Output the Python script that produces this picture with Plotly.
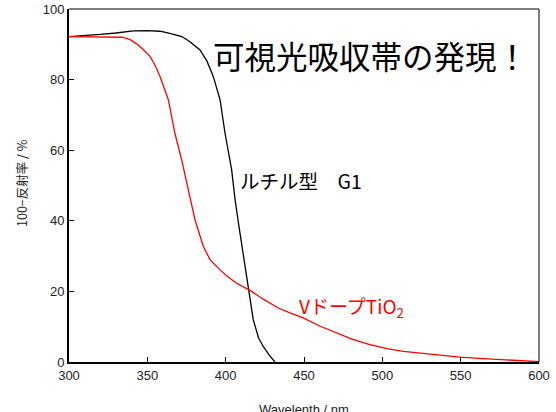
import plotly.graph_objects as go

# Rutile G1 (black)
g1_wl = [300, 310, 320, 330, 341, 350, 358, 365, 372, 377, 380, 383.6, 388, 392.1, 396.4, 399.6, 403.8, 406, 408.7, 410.2, 414.4, 417.6, 421, 424, 428, 431.5]
g1_val = [92.2, 92.4, 92.8, 93.2, 93.8, 93.9, 93.7, 93.0, 92.2, 90.8, 89.8, 88.4, 85.3, 80.9, 74.3, 64.8, 54.5, 46.0, 37.8, 33.2, 20.5, 12.0, 6.8, 4.4, 1.8, 0.0]

# V-doped TiO2 (red)
v_wl = [300, 310, 320, 328, 334, 339, 343, 347.4, 351.7, 355, 358.1, 363.4, 367.6, 371.9, 376.1, 380.4, 385.7, 390, 396.4, 401, 407, 415.5, 424, 433.6, 441, 449.5, 460, 470.8, 481, 492, 503, 513.4, 524, 534.7, 549.5, 562, 575, 587, 598.5, 600]
v_val = [92.2, 92.2, 92.2, 92.2, 92.0, 91.3, 90.2, 88.5, 86.6, 84.0, 80.9, 74.3, 64.8, 57.3, 48.8, 40.3, 32.8, 29.0, 26.1, 24.3, 22.3, 20.3, 17.8, 15.3, 13.9, 12.5, 10.2, 8.2, 6.4, 4.9, 3.8, 3.0, 2.5, 2.1, 1.4, 1.0, 0.65, 0.35, 0.1, 0.1]

x_ticks = [300, 350, 400, 450, 500, 550, 600]
y_ticks = [0, 20, 40, 60, 80, 100]

PX0, PY0, PW, PH = 69, 9, 470, 353


def px(sx):
    return (sx - PX0) / PW


def py(sy):
    return 1 - (sy - PY0) / PH


fig = go.Figure()
fig.add_trace(go.Scatter(x=g1_wl, y=g1_val, mode="lines", line=dict(color="black", width=1.3), showlegend=False))
fig.add_trace(go.Scatter(x=v_wl, y=v_val, mode="lines", line=dict(color="#ff0000", width=1.3), showlegend=False))

tickfont = dict(family="Liberation Sans, Arial, sans-serif", size=13, color="#222")
fig.update_xaxes(range=[300, 600], tickvals=x_ticks, ticks="inside", ticklen=5, tickcolor="black", tickwidth=1,
                 showline=True, linecolor="black", linewidth=2, showgrid=False, zeroline=False, tickfont=tickfont,
                 automargin=False)
fig.update_yaxes(range=[0, 100], tickvals=y_ticks, ticks="inside", ticklen=5, tickcolor="black", tickwidth=1,
                 showline=True, linecolor="black", linewidth=2, showgrid=False, zeroline=False, tickfont=tickfont,
                 automargin=False)

fig.add_shape(type="line", xref="paper", yref="paper", x0=0, x1=1, y0=1, y1=1, line=dict(color="black", width=1))
fig.add_shape(type="line", xref="paper", yref="paper", x0=1, x1=1, y0=0, y1=1, line=dict(color="black", width=1))

# axis titles
fig.add_annotation(x=0.5, y=py(409), xref="paper", yref="paper", text="Wavelenth / nm", showarrow=False,
                   xanchor="center", yanchor="middle",
                   font=dict(family="Liberation Sans, Arial, sans-serif", size=13, color="#222"))
fig.add_annotation(x=px(21), y=py(183), xref="paper", yref="paper", text="100−反射率 / %",
                   showarrow=False, textangle=-90, xanchor="center", yanchor="middle",
                   font=dict(family="Noto Sans CJK JP, sans-serif", size=12.5, color="#222"))

# labels
fig.add_annotation(x=px(370), y=py(55), xref="paper", yref="paper", text="可視光吸収帯の発現！",
                   showarrow=False, xanchor="center", yanchor="middle",
                   font=dict(family="Noto Sans CJK JP, sans-serif", size=31.5, color="black"))
fig.add_annotation(x=px(238), y=py(180), xref="paper", yref="paper", text="ルチル型　G1", showarrow=False,
                   xanchor="left", yanchor="middle",
                   font=dict(family="Noto Sans CJK JP, sans-serif", size=19.5, color="black"))
fig.add_annotation(x=px(297), y=py(307), xref="paper", yref="paper", text="VドープTiO<sub>2</sub>", showarrow=False,
                   xanchor="left", yanchor="middle",
                   font=dict(family="Noto Sans CJK JP, sans-serif", size=19, color="#ff0000"))

fig.update_layout(width=556, height=412, margin=dict(l=69, r=17, t=9, b=50), plot_bgcolor="white", paper_bgcolor="white")
fig.write_html("out.html", config={"displayModeBar": False}, post_script="document.body.style.margin='0';")
